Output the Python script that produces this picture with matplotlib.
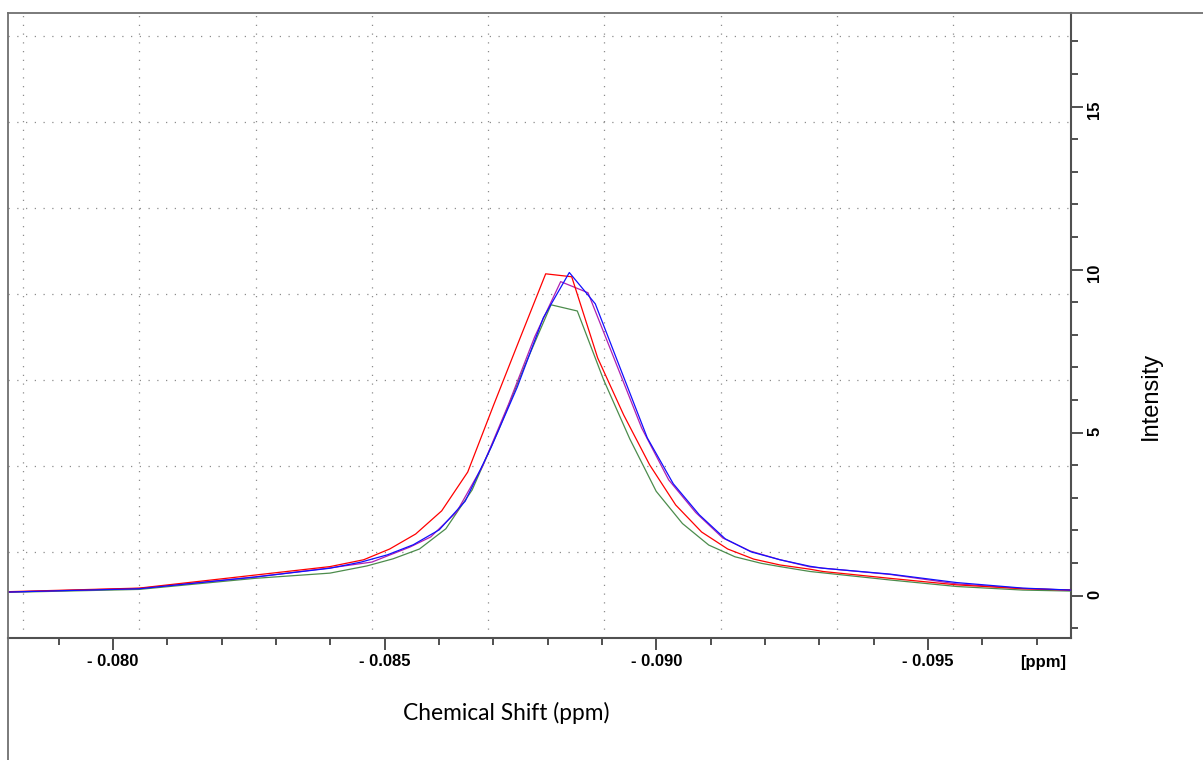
import matplotlib
matplotlib.use('Agg')
import matplotlib.pyplot as plt
from matplotlib.lines import Line2D
from matplotlib.ticker import FixedLocator, MultipleLocator

# four overlaid 1D spectra, chemical shift (ppm) vs intensity
red_ppm = [-0.078067, -0.080479, -0.082614, -0.083994, -0.084614, -0.085093, -0.085571,
           -0.086050, -0.086529, -0.087007, -0.087486, -0.087964, -0.088443, -0.088921,
           -0.089400, -0.089878, -0.090357, -0.090835, -0.091314, -0.091793, -0.092277,
           -0.092829, -0.093068, -0.094301, -0.095529, -0.096749, -0.097633]
red_int = [0.12, 0.23, 0.63, 0.89, 1.10, 1.43, 1.89, 2.60, 3.79, 5.85, 7.87, 9.87, 9.78,
           7.29, 5.54, 4.01, 2.78, 1.95, 1.43, 1.12, 0.94, 0.81, 0.74, 0.53, 0.33, 0.21, 0.17]

blue_ppm = [-0.078067, -0.080479, -0.082614, -0.083994, -0.084570, -0.085049, -0.085527,
            -0.086006, -0.086484, -0.086963, -0.087442, -0.087920, -0.088399, -0.088877,
            -0.089356, -0.089834, -0.090313, -0.090791, -0.091270, -0.091748, -0.092277,
            -0.092829, -0.093068, -0.094301, -0.095529, -0.096749, -0.097633]
blue_int = [0.11, 0.21, 0.57, 0.84, 1.03, 1.25, 1.56, 2.02, 2.90, 4.56, 6.40, 8.52, 9.91,
            8.95, 6.89, 4.84, 3.43, 2.48, 1.74, 1.34, 1.10, 0.90, 0.84, 0.66, 0.40, 0.23, 0.17]

magenta_ppm = [-0.078067, -0.080479, -0.082614, -0.083994, -0.084767, -0.085467, -0.085848,
               -0.086326, -0.086805, -0.087283, -0.087762, -0.088240, -0.088743, -0.089234,
               -0.089731, -0.090228, -0.090725, -0.091222, -0.091724, -0.092277, -0.092829,
               -0.094301, -0.095529, -0.096749, -0.097633]
magenta_int = [0.11, 0.22, 0.57, 0.85, 1.03, 1.49, 1.80, 2.57, 3.98, 5.88, 7.94, 9.63, 9.29,
               7.23, 5.14, 3.55, 2.55, 1.77, 1.37, 1.10, 0.88, 0.65, 0.36, 0.22, 0.17]

green_ppm = [-0.078067, -0.080479, -0.082614, -0.083994, -0.084673, -0.085157, -0.085641,
             -0.086126, -0.086610, -0.087094, -0.087578, -0.088062, -0.088546, -0.089030,
             -0.089514, -0.089998, -0.090482, -0.090966, -0.091450, -0.091934, -0.092277,
             -0.092829, -0.094301, -0.095529, -0.096749, -0.097633]
green_int = [0.10, 0.19, 0.53, 0.69, 0.91, 1.13, 1.43, 2.05, 3.24, 5.07, 7.05, 8.92, 8.73,
             6.62, 4.80, 3.20, 2.21, 1.55, 1.19, 0.99, 0.89, 0.74, 0.48, 0.28, 0.17, 0.14]

x_major = [-0.080, -0.085, -0.090, -0.095]
x_labels = ['- 0.080', '- 0.085', '- 0.090', '- 0.095']
y_major = [0, 5, 10, 15]

fig = plt.figure(figsize=(12.03, 7.6), dpi=100)
ax = fig.add_axes([0.00665, 0.16053, 0.8836, 0.82237])

ax.plot(green_ppm, green_int, color='#4c8c4c', lw=0.9, zorder=3)
ax.plot(magenta_ppm, magenta_int, color='#b020b0', lw=0.9, zorder=3)
ax.plot(red_ppm, red_int, color='#ff0000', lw=0.9, zorder=3)
ax.plot(blue_ppm, blue_int, color='#1010ff', lw=0.9, zorder=3)

ax.set_xlim(-0.078067, -0.097633)
ax.set_ylim(-1.30, 17.87)

# dotted grid (not tied to the ticks)
grid_style = dict(color='#8c8c8c', lw=0.9, ls=(0, (1, 6)), zorder=1, transform=ax.transAxes)
for k in range(9):
    fx = 0.0141 + 0.1094 * k
    ax.plot([fx, fx], [0, 1], **grid_style)
for k in range(1, 8):
    fy = 0.1376 * k
    ax.plot([0, 1], [fy, fy], **grid_style)

# spines
ax.spines['left'].set_visible(False)
ax.spines['top'].set_visible(False)
for s in ['bottom', 'right']:
    ax.spines[s].set_color('#505050')
    ax.spines[s].set_linewidth(1.5)

# x ticks
ax.xaxis.set_major_locator(FixedLocator(x_major))
ax.set_xticklabels(x_labels)
ax.xaxis.set_minor_locator(MultipleLocator(0.001))

# y ticks on the right
ax.yaxis.tick_right()
ax.yaxis.set_major_locator(FixedLocator(y_major))
ax.yaxis.set_minor_locator(MultipleLocator(1))

ax.tick_params(which='both', direction='out', color='#505050', width=1.4)
ax.tick_params(which='major', length=8.6, pad=3)
ax.tick_params(which='minor', length=5)
ax.tick_params(axis='y', labelrotation=90)
for lab in ax.get_xticklabels() + ax.get_yticklabels():
    lab.set_fontfamily('Liberation Sans')
    lab.set_fontweight('bold')
    lab.set_fontsize(12)

ax.annotate('[ppm]', xy=(0.974, 0), xycoords='axes fraction', xytext=(0, -18),
            textcoords='offset points', ha='center', va='center',
            fontfamily='Liberation Sans', fontweight='bold', fontsize=12)

fig.text(0.4206, 0.0618, 'Chemical Shift (ppm)', ha='center', va='center',
         fontfamily='Lato', fontsize=16.4)
fig.text(0.9567, 0.479, 'Intensity', ha='center', va='center', rotation=90,
         fontfamily='Liberation Sans', fontsize=17)

# outer frame (left and top edges)
frame_x = 8 / 1203
frame_y = 1 - 13 / 760
fig.add_artist(Line2D([frame_x, frame_x], [0, frame_y], color='#707070', lw=1.3))
fig.add_artist(Line2D([frame_x, 1], [frame_y, frame_y], color='#707070', lw=1.3))

fig.savefig('out.png', dpi=100)
